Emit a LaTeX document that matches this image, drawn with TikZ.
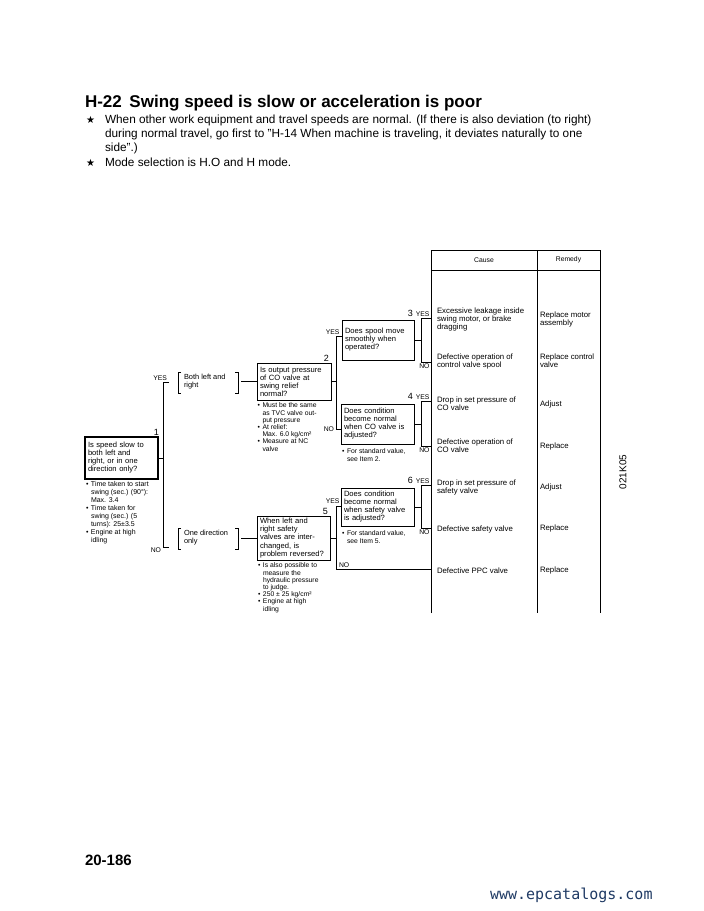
\documentclass[tikz,border=0pt]{standalone}
\usepackage{fontspec}
\setmainfont{Liberation Sans}
\newfontfamily\symfont{DejaVu Sans}
\newfontfamily\webfont{DejaVu Sans Mono}
\definecolor{webblue}{HTML}{1F3A64}
\newcommand{\bu}{\makebox[5pt][l]{•}}
\newcommand{\ind}{\hspace*{5pt}}
\tikzset{
  every node/.style={inner sep=0pt, outer sep=0pt},
  intro/.style={anchor=base west, font=\fontsize{11.8}{14}\selectfont},
  star/.style={anchor=base west, font=\symfont\fontsize{10}{10}\selectfont},
  qbox/.style={draw, line width=0.9pt, anchor=north west, inner xsep=3pt, inner ysep=2pt, align=left, font=\fontsize{7.6}{8}\selectfont},
  note/.style={anchor=north west, align=left, font=\fontsize{6.8}{7.2}\selectfont},
  bnote/.style={anchor=north west, align=left, font=\fontsize{7}{8}\selectfont},
  brt/.style={anchor=north west, align=left, font=\fontsize{7.4}{8}\selectfont},
  cell/.style={anchor=west, align=left, font=\fontsize{7.8}{8}\selectfont},
  hdr/.style={font=\fontsize{6.8}{7}\selectfont},
  lbl/.style={font=\fontsize{6.8}{7}\selectfont},
  num/.style={font=\fontsize{9}{9}\selectfont},
  conn/.style={line width=0.9pt},
  brk/.style={line width=0.6pt},
  tline/.style={line width=0.9pt}
}
\begin{document}
\begin{tikzpicture}[x=1pt,y=-1pt]
\useasboundingbox[fill=white] (0,0) rectangle (704,911);

% heading
\node[anchor=base west, font=\fontsize{17}{18}\selectfont\bfseries] (title) at (85,107) {H-22\hspace{0.45em}Swing speed is slow or acceleration is poor};
\node[star] (st1) at (86,123.5) {★};
\node[intro] (i1) at (105,123.5) {When other work equipment and travel speeds are normal. (If there is also deviation (to right)};
\node[intro] (i2) at (105,137.5) {during normal travel, go first to ”H-14 When machine is traveling, it deviates naturally to one};
\node[intro] (i3) at (105,151.5) {side”.)};
\node[star] (st2) at (86,166) {★};
\node[intro] (i4) at (105,166) {Mode selection is H.O and H mode.};

% table
\coordinate (tbl) at (431,250);
\draw[tline] (431,613) -- (tbl) -- (600,250) -- (600,613);
\draw[tline] (537,250) -- (537,613);
\draw[tline] (431,270) -- (600,270);
\node[hdr] (hc) at (484,260) {Cause};
\node[hdr] (hr) at (568.5,260) {Remedy};
\node[cell] (c1) at (437,319) {Excessive leakage inside\\swing motor, or brake\\dragging};
\node[cell] (r1) at (540,319.5) {Replace motor\\assembly};
\node[cell] (c2) at (437,361) {Defective operation of\\control valve spool};
\node[cell] (r2) at (540,361) {Replace control\\valve};
\node[cell] (c3) at (437,404) {Drop in set pressure of\\CO valve};
\node[cell] (r3) at (540,404) {Adjust};
\node[cell] (c4) at (437,446) {Defective operation of\\CO valve};
\node[cell] (r4) at (540,446) {Replace};
\node[cell] (c5) at (437,487) {Drop in set pressure of\\safety valve};
\node[cell] (r5) at (540,487) {Adjust};
\node[cell] (c6) at (437,529) {Defective safety valve};
\node[cell] (r6) at (540,528) {Replace};
\node[cell] (c7) at (437,571) {Defective PPC valve};
\node[cell] (r7) at (540,570) {Replace};

% box 1
\node[qbox, text width=67pt, minimum height=42pt, line width=1.3pt] (b1) at (85,437) {Is speed slow to\\both left and\\right, or in one\\direction only?};
\node[num, anchor=south east] (n1) at ([xshift=1pt,yshift=1.5pt]b1.north east) {1};
\node[bnote] (nt1) at (86,481) {\bu Time taken to start\\\ind swing (sec.) (90°):\\\ind Max. 3.4\\\bu Time taken for\\\ind swing (sec.) (5\\\ind turns): 25±3.5\\\bu Engine at high\\\ind idling};
\coordinate (s1t) at (163,382);
\coordinate (s1b) at (163,547);
\draw[conn] (b1.east) -- (b1.east -| s1t);
\draw[conn] ([xshift=6pt]s1t) -- (s1t) -- (s1b) -- ([xshift=6pt]s1b);
\node[lbl, anchor=south east] (y1) at (167,380.5) {YES};
\node[lbl, anchor=east] (no1) at (161,550.5) {NO};

% bracket texts
\node[brt] (bt1) at (184,374) {Both left and\\right};
\draw[brk] (181,372) -- (178,372) -- (178,393) -- (181,393);
\draw[brk] (235,372) -- (238,372) -- (238,393) -- (235,393);
\coordinate (br1) at (241,381.5);
\node[brt] (bt2) at (184,530) {One direction\\only};
\draw[brk] (181,528) -- (178,528) -- (178,549) -- (181,549);
\draw[brk] (235,528) -- (238,528) -- (238,549) -- (235,549);
\coordinate (br2) at (241,538);

% box 2
\node[qbox, text width=68pt, minimum height=37pt] (b2) at (257,363) {Is output pressure\\of CO valve at\\swing relief\\normal?};
\node[num, anchor=south east] (n2) at ([xshift=-2pt,yshift=1.5pt]b2.north east) {2};
\node[note] (nt2) at (257.5,403) {\bu Must be the same\\\ind as TVC valve out-\\\ind put pressure\\\bu At relief:\\\ind Max. 6.0 kg/cm²\\\bu Measure at NC\\\ind valve};
\draw[conn] (br1) -- (b2.west);

% box 3
\node[qbox, text width=66pt, minimum height=40pt] (b3) at (342,320) {Does spool move\\smoothly when\\operated?};
% box 4
\node[qbox, text width=67pt, minimum height=40pt] (b4) at (341,404) {Does condition\\become normal\\when CO valve is\\adjusted?};
\node[note] (nt4) at (342,449) {\bu For standard value,\\\ind see Item 2.};

% spine 2
\coordinate (s2t) at (336,336);
\coordinate (s2b) at (336,429);
\draw[conn] (b2.east) -- (b2.east -| s2t);
\draw[conn] (s2t -| b3.west) -- (s2t) -- (s2b) -- (s2b -| b4.west);
\node[lbl, anchor=south east] (y2) at (339.5,334.5) {YES};
\node[lbl, anchor=east] (no2) at (334,429) {NO};

% spine 3
\coordinate (s3t) at (421,318);
\coordinate (s3b) at (421,362);
\draw[conn] (b3.east) -- (b3.east -| s3t);
\draw[conn] (s3t -| tbl) -- (s3t) -- (s3b) -- (s3b -| tbl);
\node[lbl, anchor=south east] (y3) at (429.5,316.5) {YES};
\node[num, anchor=south east] (n3) at ([xshift=-3pt]y3.south west) {3};
\node[lbl, anchor=north east] (no3) at (429.5,363.5) {NO};

% spine 4
\coordinate (s4t) at (421,401);
\coordinate (s4b) at (421,446);
\draw[conn] (b4.east) -- (b4.east -| s4t);
\draw[conn] (s4t -| tbl) -- (s4t) -- (s4b) -- (s4b -| tbl);
\node[lbl, anchor=south east] (y4) at (429.5,399.5) {YES};
\node[num, anchor=south east] (n4) at ([xshift=-3pt]y4.south west) {4};
\node[lbl, anchor=north east] (no4) at (429.5,447.5) {NO};

% box 5
\node[qbox, text width=67pt, minimum height=44pt, font=\fontsize{7.6}{8.2}\selectfont] (b5) at (257,516) {When left and\\right safety\\valves are inter-\\changed, is\\problem reversed?};
\node[num, anchor=south east] (n5) at ([xshift=-2pt,yshift=1.5pt]b5.north east) {5};
\node[note] (nt5) at (258,563) {\bu Is also possible to\\\ind measure the\\\ind hydraulic pressure\\\ind to judge.\\\bu 250 ± 25 kg/cm²\\\bu Engine at high\\\ind idling};
\draw[conn] (br2) -- (b5.west);

% box 6
\node[qbox, text width=67pt, minimum height=38pt] (b6) at (341,488) {Does condition\\become normal\\when safety valve\\is adjusted?};
\node[note] (nt6) at (342,531) {\bu For standard value,\\\ind see Item 5.};

% spine 5
\coordinate (s5t) at (336,506);
\coordinate (s5b) at (336,569);
\draw[conn] (b5.east) -- (b5.east -| s5t);
\draw[conn] (s5t -| b6.west) -- (s5t) -- (s5b) -- (s5b -| tbl);
\node[lbl, anchor=south east] (y5) at (339.5,504) {YES};
\node[lbl, anchor=south west] (no5) at (339,567.5) {NO};

% spine 6
\coordinate (s6t) at (421,485);
\coordinate (s6b) at (421,528);
\draw[conn] (b6.east) -- (b6.east -| s6t);
\draw[conn] (s6t -| tbl) -- (s6t) -- (s6b) -- (s6b -| tbl);
\node[lbl, anchor=south east] (y6) at (429.5,483.5) {YES};
\node[num, anchor=south east] (n6) at ([xshift=-3pt]y6.south west) {6};
\node[lbl, anchor=north east] (no6) at (429.5,529.5) {NO};

% side code, page number, web
\node[rotate=90, font=\fontsize{10}{10}\selectfont] (code) at (623,472) {021K05};
\node[anchor=base west, font=\fontsize{15}{16}\selectfont\bfseries] (page) at (85,865) {20-186};
\node[anchor=base west, font=\webfont\fontsize{15}{15}\selectfont, text=webblue] (web) at (490,899) {www.epcatalogs.com};
\end{tikzpicture}
\end{document}
